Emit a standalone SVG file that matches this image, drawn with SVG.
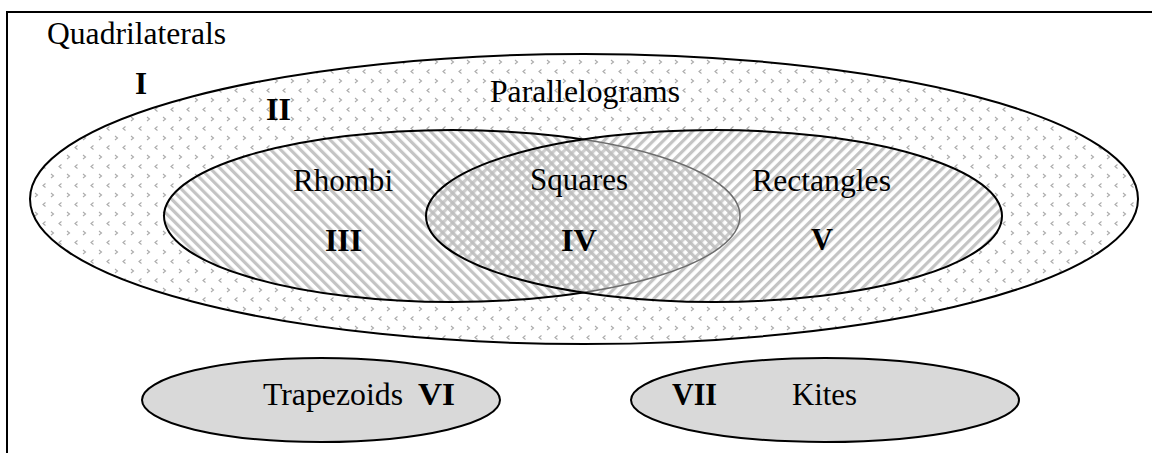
<svg xmlns="http://www.w3.org/2000/svg" width="1152" height="453" viewBox="0 0 1152 453">
<style>
text{font-family:"Liberation Serif","Times New Roman",Tinos,"Noto Serif","DejaVu Serif",serif;font-size:31px;fill:#000}
.b{font-weight:bold}
.stk{stroke:#000;stroke-width:2}
.small{fill:#d9d9d9;stroke:#000;stroke-width:2}
</style>
<defs>
<pattern id="dots" width="16" height="19" patternUnits="userSpaceOnUse">
<rect width="16" height="19" fill="#fff"/>
<path d="M3 3 L5.5 5 L3 7 M13.5 12.5 L11 14.5 L13.5 16.5" fill="none" stroke="#aaaaaa" stroke-width="1.1"/>
</pattern>
<pattern id="back" width="7" height="7" patternUnits="userSpaceOnUse" patternTransform="rotate(-45)">
<rect width="7" height="7" fill="#fff"/>
<rect width="3.2" height="7" fill="#c4c4c4"/>
</pattern>
<pattern id="fwd" width="7" height="7" patternUnits="userSpaceOnUse" patternTransform="rotate(45)">
<rect width="7" height="7" fill="#fff"/>
<rect width="3.2" height="7" fill="#c4c4c4"/>
</pattern>
<pattern id="fwdT" width="7" height="7" patternUnits="userSpaceOnUse" patternTransform="rotate(45)">
<rect width="3.2" height="7" fill="#bdbdbd" fill-opacity="0.75"/>
</pattern>
<clipPath id="rectClip"><ellipse cx="714" cy="216" rx="288" ry="86"/></clipPath>
</defs>
<g id="frame">
<line x1="7" y1="12" x2="1152" y2="12" stroke="#000" stroke-width="2"/>
<line x1="7" y1="11" x2="7" y2="453" stroke="#000" stroke-width="2"/>
<text x="47" y="44" textLength="179" lengthAdjust="spacingAndGlyphs">Quadrilaterals</text>
<text class="b" x="135" y="94">I</text>
</g>
<g id="parallelograms">
<ellipse cx="584" cy="199" rx="554" ry="145" fill="url(#dots)" class="stk"/>
<text x="490" y="102" textLength="190" lengthAdjust="spacingAndGlyphs">Parallelograms</text>
<text class="b" x="266" y="120" textLength="25" lengthAdjust="spacingAndGlyphs">II</text>
</g>
<g id="rhombi">
<ellipse cx="452" cy="216" rx="288" ry="86" fill="url(#back)" class="stk"/>
</g>
<g id="rectangles">
<ellipse cx="714" cy="216" rx="288" ry="86" fill="url(#fwd)"/>
<ellipse cx="452" cy="216" rx="288" ry="86" fill="url(#back)" clip-path="url(#rectClip)"/>
<ellipse cx="452" cy="216" rx="288" ry="86" fill="url(#fwdT)" clip-path="url(#rectClip)"/>
<ellipse cx="452" cy="216" rx="288" ry="86" fill="none" stroke="#6e6e6e" stroke-width="1.5" clip-path="url(#rectClip)"/>
<ellipse cx="714" cy="216" rx="288" ry="86" fill="none" class="stk"/>
</g>
<g id="labels-inner">
<text x="293" y="191" textLength="100" lengthAdjust="spacingAndGlyphs">Rhombi</text>
<text class="b" x="325" y="251" textLength="37" lengthAdjust="spacingAndGlyphs">III</text>
<text x="530" y="190" textLength="98" lengthAdjust="spacingAndGlyphs">Squares</text>
<text class="b" x="561" y="251" textLength="36" lengthAdjust="spacingAndGlyphs">IV</text>
<text x="752" y="191" textLength="139" lengthAdjust="spacingAndGlyphs">Rectangles</text>
<text class="b" x="811" y="250" textLength="22" lengthAdjust="spacingAndGlyphs">V</text>
</g>
<g id="trapezoids">
<ellipse cx="321" cy="400" rx="179" ry="42" class="small"/>
<text x="263" y="405" textLength="140" lengthAdjust="spacingAndGlyphs">Trapezoids</text>
<text class="b" x="418" y="405" textLength="37" lengthAdjust="spacingAndGlyphs">VI</text>
</g>
<g id="kites">
<ellipse cx="825" cy="400" rx="194" ry="42" class="small"/>
<text class="b" x="672" y="405" textLength="45" lengthAdjust="spacingAndGlyphs">VII</text>
<text x="792" y="405" textLength="65" lengthAdjust="spacingAndGlyphs">Kites</text>
</g>
</svg>
